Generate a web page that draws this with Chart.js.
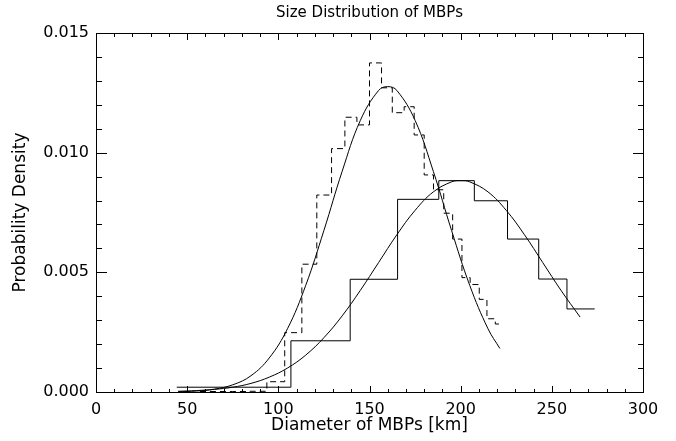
<!DOCTYPE html>
<html>
<head>
<meta charset="utf-8">
<script src="https://cdn.jsdelivr.net/npm/chart.js@4.4.0/dist/chart.umd.min.js"></script>
<style>
  html, body { margin: 0; padding: 0; background: #fff; }
  #wrap { width: 676px; height: 441px; }
</style>
</head>
<body>
<div id="wrap"><canvas id="sizeChart" width="676" height="441"></canvas></div>
<script>
// Solid histogram (bin edges in km, density per bin)
const solidEdges = [44.3, 106.9, 139.4, 165.4, 188, 207.5, 225.7, 242.8, 258.3, 273.5];
const solidDensity = [0.0002, 0.00214, 0.00471, 0.00805, 0.00883, 0.00799, 0.00639, 0.00472, 0.00347];

// Dashed histogram
const dashEdges = [57, 66, 75, 84, 93.7, 103.5, 112.9, 121.1, 129.2, 136.5, 143.1, 150, 156.6,
                   162.5, 169, 174.5, 180, 185.1, 190.7, 195.6, 200.7, 205.2, 210.2, 214.4, 219, 222.8];
const dashDensity = [0.00002, 0.00002, 0.00002, 0.00003, 0.00043, 0.00248, 0.00534, 0.00823, 0.01017,
                     0.01148, 0.01116, 0.01375, 0.01271, 0.01167, 0.01192, 0.01074, 0.00907, 0.00845,
                     0.00747, 0.00639, 0.00478, 0.00449, 0.00387, 0.00306, 0.00284];

// Fitted curve over the dashed histogram
const narrowFitX = [45, 55, 65, 75, 85, 95, 105, 115, 125, 135, 145, 155, 160, 165, 175, 185, 195, 205, 215, 221.5];
const narrowFitY = [0.00001, 0.00004, 0.00012, 0.0003, 0.00068, 0.00142, 0.00264, 0.00445, 0.00675, 0.00922,
                    0.01135, 0.0126, 0.01276, 0.0126, 0.01135, 0.00922, 0.00675, 0.00445, 0.00264, 0.00182];

// Fitted curve over the solid histogram
const wideFitX = [45, 55, 65, 75, 85, 95, 105, 115, 125, 135, 145, 155, 165, 175, 185, 195, 200, 205,
                  215, 225, 235, 245, 255, 265.5];
const wideFitY = [0.00003, 0.00006, 0.00011, 0.0002, 0.00036, 0.00062, 0.001, 0.00154, 0.00227, 0.00318,
                  0.00425, 0.00541, 0.00657, 0.00759, 0.00836, 0.00878, 0.00883, 0.00878, 0.00836, 0.00759,
                  0.00657, 0.00541, 0.00425, 0.00313];

// Tick labels
const xTickValues = [0, 50, 100, 150, 200, 250, 300];
const yTickValues = [0, 0.005, 0.010, 0.015];

const chartTitle = 'Size Distribution of MBPs';
const FONT = 'DejaVu Sans';

// histogram points: one per edge, last edge repeats the last bin
function stepPoints(edges, vals) {
    return edges.map((e, i) => ({ x: e, y: vals[Math.min(i, vals.length - 1)] }));
}
function curvePoints(xs, ys) {
    return xs.map((v, i) => ({ x: v, y: ys[i] }));
}

// Box around the plot with inward ticks on all four sides, title centred on the plot
const frameTicks = {
    id: 'frameTicks',
    afterDatasetsDraw(chart) {
        const { ctx, chartArea: a, scales: { x, y } } = chart;
        const L = Math.round(a.left) + 0.5, R = Math.round(a.right) + 0.5;
        const T = Math.round(a.top) + 0.5, B = Math.round(a.bottom) + 0.5;
        ctx.save();
        ctx.strokeStyle = '#000';
        ctx.lineWidth = 1;
        ctx.strokeRect(L, T, R - L, B - T);
        ctx.beginPath();
        for (let i = 0; i <= 30; i++) {
            const px = Math.round(x.getPixelForValue(i * 10)) + 0.5;
            const len = i % 5 === 0 ? 6.5 : 3.5;
            ctx.moveTo(px, B); ctx.lineTo(px, B - len);
            ctx.moveTo(px, T); ctx.lineTo(px, T + len);
        }
        for (let j = 0; j <= 15; j++) {
            const py = Math.round(y.getPixelForValue(j * 0.001)) + 0.5;
            const len = j % 5 === 0 ? 10.5 : 5.5;
            ctx.moveTo(L, py); ctx.lineTo(L + len, py);
            ctx.moveTo(R, py); ctx.lineTo(R - len, py);
        }
        ctx.stroke();

        ctx.fillStyle = '#000';
        ctx.font = '15px "' + FONT + '"';
        ctx.textAlign = 'center';
        ctx.textBaseline = 'middle';
        ctx.fillText(chartTitle, (a.left + a.right) / 2, 13);
        ctx.restore();
    }
};

const ctx = document.getElementById('sizeChart').getContext('2d');
const sizeChart = new Chart(ctx, {
    type: 'line',
    data: {
        datasets: [{
            label: 'Histogram (solid)',
            data: stepPoints(solidEdges, solidDensity),
            stepped: 'before',
            borderColor: '#000',
            borderWidth: 1,
            pointRadius: 0
        }, {
            label: 'Histogram (dashed)',
            data: stepPoints(dashEdges, dashDensity),
            stepped: 'before',
            borderColor: '#000',
            borderWidth: 1,
            borderDash: [6, 4],
            pointRadius: 0
        }, {
            label: 'Fit (narrow)',
            data: curvePoints(narrowFitX, narrowFitY),
            borderColor: '#000',
            borderWidth: 1,
            tension: 0.4,
            pointRadius: 0
        }, {
            label: 'Fit (wide)',
            data: curvePoints(wideFitX, wideFitY),
            borderColor: '#000',
            borderWidth: 1,
            tension: 0.4,
            pointRadius: 0
        }]
    },
    options: {
        responsive: false,
        animation: false,
        layout: { padding: { left: 0, right: 33, top: 33, bottom: 0 } },
        plugins: {
            legend: { display: false },
            tooltip: { enabled: false },
            title: { display: false }
        },
        scales: {
            x: {
                type: 'linear',
                min: 0,
                max: 300,
                afterBuildTicks: s => { s.ticks = xTickValues.map(v => ({ value: v })); },
                afterFit: s => { s.height = 49; },
                grid: { display: false, drawTicks: false },
                border: { display: false },
                ticks: {
                    color: '#000',
                    padding: 8,
                    maxRotation: 0,
                    font: { family: FONT, size: 16 }
                },
                title: {
                    display: true,
                    text: 'Diameter of MBPs [km]',
                    color: '#000',
                    font: { family: FONT, size: 17 },
                    padding: { top: 0, bottom: 5 }
                }
            },
            y: {
                min: 0,
                max: 0.015,
                afterBuildTicks: s => { s.ticks = yTickValues.map(v => ({ value: v })); },
                afterFit: s => { s.width = 96; },
                grid: { display: false, drawTicks: false },
                border: { display: false },
                ticks: {
                    color: '#000',
                    padding: 7,
                    font: { family: FONT, size: 16 },
                    callback: v => v.toFixed(3)
                },
                title: {
                    display: true,
                    text: 'Probability Density',
                    color: '#000',
                    font: { family: FONT, size: 17 },
                    padding: { top: 10, bottom: 0 }
                }
            }
        }
    },
    plugins: [frameTicks]
});
</script>
</body>
</html>
